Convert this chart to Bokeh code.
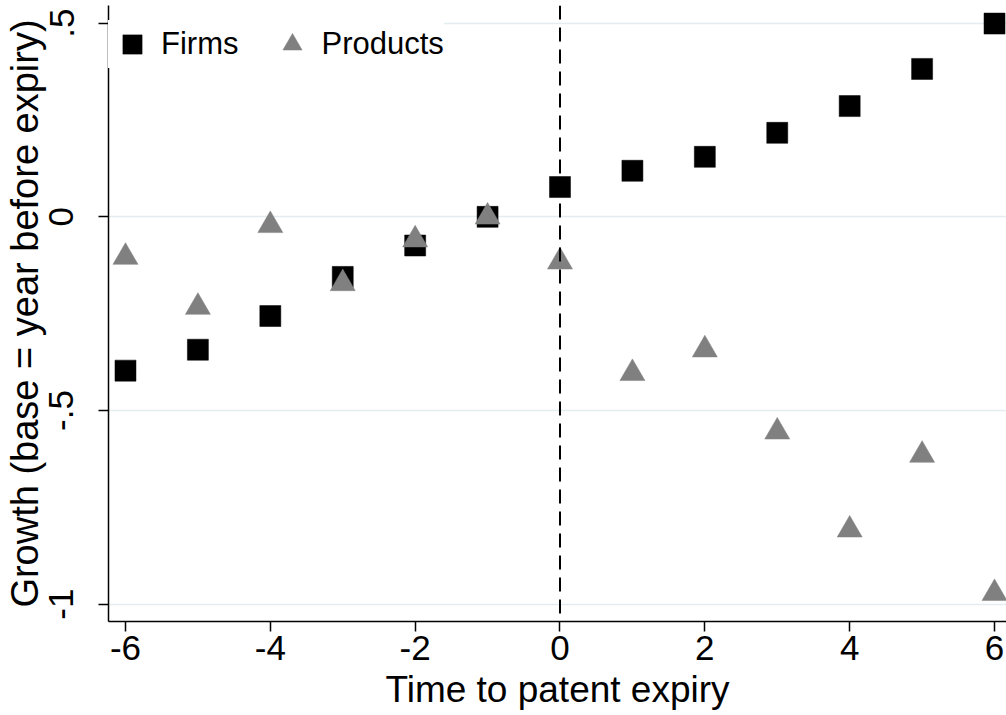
from bokeh.plotting import figure
from bokeh.models import (ColumnDataSource, FixedTicker, Range1d, Span,
                          Legend, LegendItem)
from bokeh.embed import file_html
from bokeh.resources import INLINE

# Years relative to patent expiry
years = [-6, -5, -4, -3, -2, -1, 0, 1, 2, 3, 4, 5, 6]
# Growth relative to the year before expiry
firms = [-0.397, -0.343, -0.256, -0.155, -0.074, 0.0, 0.077,
         0.119, 0.155, 0.217, 0.286, 0.382, 0.499]
products = [-0.104, -0.233, -0.022, -0.172, -0.059, 0.0, -0.116,
            -0.404, -0.343, -0.555, -0.808, -0.615, -0.972]

x_ticks = [-6, -4, -2, 0, 2, 4, 6]
x_tick_labels = ["-6", "-4", "-2", "0", "2", "4", "6"]
y_ticks = [-1, -0.5, 0, 0.5]
y_tick_labels = ["-1", "-.5", "0", ".5"]

FONT = "Liberation Sans"

src = ColumnDataSource(dict(year=years, firms=firms, products=products))

p = figure(width=1006, height=715, output_backend="svg", toolbar_location=None,
           x_range=Range1d(-6.2345, 6.1655), y_range=Range1d(-1.0447, 0.5457),
           min_border_left=107, min_border_right=0, min_border_top=5,
           min_border_bottom=94)
p.background_fill_color = "white"
p.border_fill_color = "white"
p.outline_line_color = None

# axes
for ax in (p.xaxis[0], p.yaxis[0]):
    ax.axis_line_color = "black"
    ax.axis_line_width = 1.5
    ax.major_tick_line_color = "black"
    ax.major_tick_line_width = 1.5
    ax.major_tick_out = 10
    ax.major_tick_in = 0
    ax.minor_tick_line_color = None
    ax.major_label_text_font = FONT
    ax.major_label_text_font_size = "35px"
    ax.major_label_text_color = "black"
    ax.axis_label_text_font = FONT
    ax.axis_label_text_font_style = "normal"
    ax.axis_label_text_color = "black"

p.xaxis.ticker = FixedTicker(ticks=x_ticks)
p.xaxis.major_label_overrides = dict(zip(x_ticks, x_tick_labels))
p.xaxis.axis_label = "Time to patent expiry"
p.xaxis.axis_label_text_font_size = "37px"
p.xaxis.major_label_standoff = 4
p.xaxis.axis_label_standoff = 6

p.yaxis.ticker = FixedTicker(ticks=y_ticks)
p.yaxis.major_label_overrides = dict(zip(y_ticks, y_tick_labels))
p.yaxis.major_label_orientation = "parallel"
p.yaxis.axis_label = "Growth (base = year before expiry)"
p.yaxis.axis_label_text_font_size = "38px"
p.yaxis.major_label_standoff = 25
p.yaxis.axis_label_standoff = 1

# grid
p.xgrid.grid_line_color = None
p.ygrid.ticker = FixedTicker(ticks=y_ticks)
p.ygrid.grid_line_color = "#e3ecee"
p.ygrid.grid_line_width = 1.5

r_firms = p.scatter("year", "firms", source=src, marker="square", size=21,
                    fill_color="black", line_color="black", line_width=0.5)
r_prod = p.scatter("year", "products", source=src, marker="triangle", size=25,
                   fill_color="#808080", line_color="#808080", line_width=0.5)

# expiry marker
p.add_layout(Span(location=0, dimension="height", line_color="black",
                  line_width=2, line_dash="14 8"))

legend = Legend(items=[LegendItem(label="Firms", renderers=[r_firms]),
                       LegendItem(label="Products", renderers=[r_prod])],
                orientation="horizontal", location=(0, 553),
                glyph_width=48, glyph_height=48, label_standoff=5,
                spacing=30, padding=4, margin=0,
                border_line_color=None, background_fill_color="white",
                background_fill_alpha=1.0,
                label_text_font=FONT, label_text_font_size="31px",
                label_text_color="black")
p.add_layout(legend)

open("out.html", "w").write(file_html(p, INLINE))
